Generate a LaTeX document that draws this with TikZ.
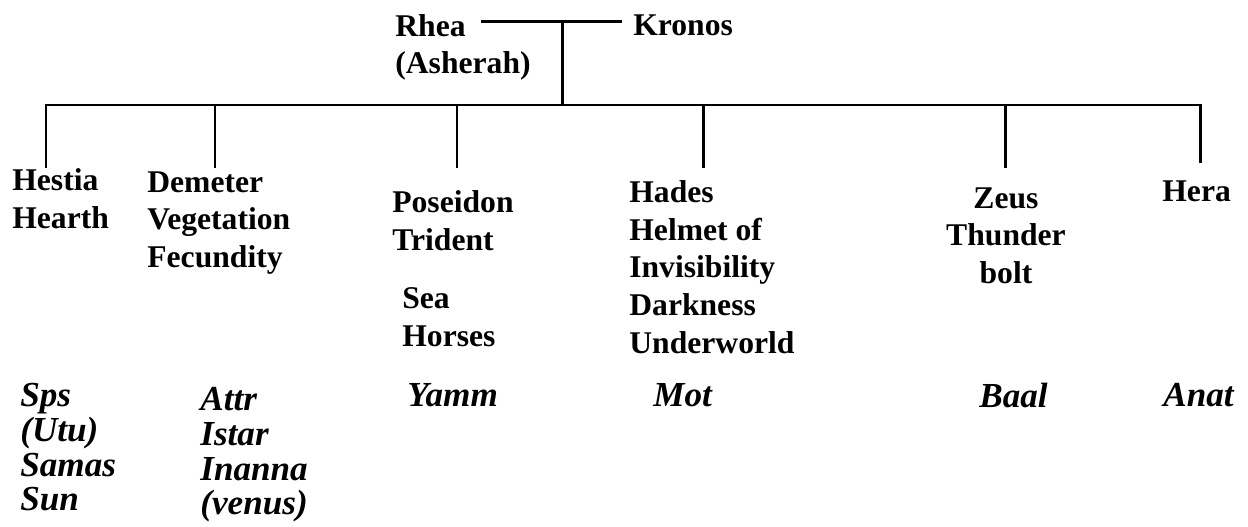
\documentclass[tikz,border=0pt]{standalone}
\usepackage{fontspec}
\setmainfont{Liberation Serif}
\usetikzlibrary{positioning}
\tikzset{
  god/.style={
    anchor=north west,
    inner sep=0pt,
    align=left,
    font=\fontsize{18}{21.5}\selectfont\bfseries
  },
  myth/.style={
    anchor=north west,
    inner sep=0pt,
    align=left,
    font=\fontsize{20}{19.8}\selectfont\bfseries\itshape
  },
  link/.style={
    line width=1.7pt
  }
}

\begin{document}
\begin{tikzpicture}[x=0.02cm, y=-0.02cm]
    \useasboundingbox (0,0) rectangle (1248,527);

    % parents
    \node[god] (rhea) at (395,14) {Rhea};
    \node[god] (asherah) at (395,51) {(Asherah)};
    \node[god] (kronos) at (633,14) {Kronos};

    % children
    \node[god] (hestia) at (12,168) {Hestia\\Hearth};
    \node[god] (demeter) at (147,171) {Demeter\\Vegetation\\Fecundity};
    \node[god] (poseidon) at (392,190) {Poseidon\\Trident};
    \node[god] (sea) at (402,287) {Sea\\Horses};
    \node[god] (hades) at (629,180) {Hades\\Helmet of\\Invisibility\\Darkness\\Underworld};
    \node[god, anchor=north, align=center] (zeus) at (1006,187) {Zeus\\Thunder\\bolt};
    \node[god] (hera) at (1162,180) {Hera};

    % near-eastern counterparts
    \node[myth] (sps) at (20,383) {Sps\\(Utu)\\Samas\\Sun};
    \node[myth] (attr) at (200,387) {Attr\\Istar\\Inanna\\(venus)};
    \node[myth] (yamm) at (407,383) {Yamm};
    \node[myth] (mot) at (653,383) {Mot};
    \node[myth] (baal) at (979,383) {Baal};
    \node[myth] (anat) at (1163,383) {Anat};

    % ends of the drops
    \coordinate (bar) at (0,105);
    \coordinate (hestiaend) at (46,168);
    \coordinate (demeterend) at (215,168);
    \coordinate (poseidonend) at (457,168);
    \coordinate (hadesend) at (703,168);
    \coordinate (zeusend) at (1005,168);
    \coordinate (heraend) at (1200,163);

    \draw[link, shorten <=8.5pt, shorten >=6pt] ([yshift=1.7pt]kronos.west -| rhea.east)
        -- coordinate[pos=0.576] (wed) ([yshift=1.7pt]kronos.west);
    \draw[link] (wed) -- (wed |- bar);
    \draw[link] (hestiaend) |- (heraend |- bar) -- (heraend);
    \foreach \who in {demeterend, poseidonend, hadesend, zeusend}
        \draw[link] (\who |- bar) -- (\who);
\end{tikzpicture}
\end{document}
